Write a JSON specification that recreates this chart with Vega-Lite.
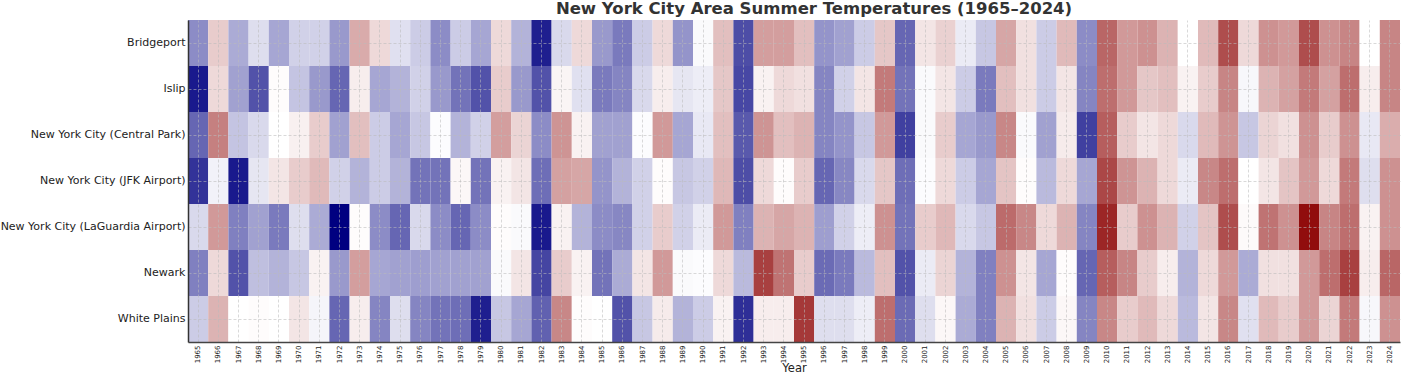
{
  "$schema": "https://vega.github.io/schema/vega-lite/v6.json",
  "autosize": {"type": "none"},
  "padding": {"left": 188, "top": 20, "right": 4, "bottom": 33},
  "width": 1212,
  "height": 322,
  "title": {"text": "New York City Area Summer Temperatures (1965–2024)", "font": "DejaVu Sans", "fontSize": 16.5, "fontWeight": "bold", "color": "#333333", "anchor": "middle", "offset": 3, "dx": 20},
  "config": {"view": {"stroke": null}, "font": "DejaVu Sans"},
  "data": {"values": [
{"Year":1965,"Station":"Bridgeport","Value":-0.45},{"Year":1965,"Station":"Islip","Value":-0.9},{"Year":1965,"Station":"New York City (Central Park)","Value":-0.6},{"Year":1965,"Station":"New York City (JFK Airport)","Value":-0.8},{"Year":1965,"Station":"New York City (LaGuardia Airport)","Value":-0.15},{"Year":1965,"Station":"Newark","Value":-0.5},{"Year":1965,"Station":"White Plains","Value":-0.2},
{"Year":1966,"Station":"Bridgeport","Value":0.2},{"Year":1966,"Station":"Islip","Value":0.15},{"Year":1966,"Station":"New York City (Central Park)","Value":0.5},{"Year":1966,"Station":"New York City (JFK Airport)","Value":-0.05},{"Year":1966,"Station":"New York City (LaGuardia Airport)","Value":0.4},{"Year":1966,"Station":"Newark","Value":0.15},{"Year":1966,"Station":"White Plains","Value":0.3},
{"Year":1967,"Station":"Bridgeport","Value":-0.33},{"Year":1967,"Station":"Islip","Value":-0.37},{"Year":1967,"Station":"New York City (Central Park)","Value":-0.23},{"Year":1967,"Station":"New York City (JFK Airport)","Value":-0.9},{"Year":1967,"Station":"New York City (LaGuardia Airport)","Value":-0.5},{"Year":1967,"Station":"Newark","Value":-0.68},{"Year":1967,"Station":"White Plains","Value":0},
{"Year":1968,"Station":"Bridgeport","Value":-0.13},{"Year":1968,"Station":"Islip","Value":-0.68},{"Year":1968,"Station":"New York City (Central Park)","Value":-0.15},{"Year":1968,"Station":"New York City (JFK Airport)","Value":-0.1},{"Year":1968,"Station":"New York City (LaGuardia Airport)","Value":-0.37},{"Year":1968,"Station":"Newark","Value":-0.25},{"Year":1968,"Station":"White Plains","Value":0.01},
{"Year":1969,"Station":"Bridgeport","Value":-0.35},{"Year":1969,"Station":"Islip","Value":0.01},{"Year":1969,"Station":"New York City (Central Park)","Value":0},{"Year":1969,"Station":"New York City (JFK Airport)","Value":0.1},{"Year":1969,"Station":"New York City (LaGuardia Airport)","Value":-0.52},{"Year":1969,"Station":"Newark","Value":-0.3},{"Year":1969,"Station":"White Plains","Value":0},
{"Year":1970,"Station":"Bridgeport","Value":-0.18},{"Year":1970,"Station":"Islip","Value":-0.23},{"Year":1970,"Station":"New York City (Central Park)","Value":0.06},{"Year":1970,"Station":"New York City (JFK Airport)","Value":0.2},{"Year":1970,"Station":"New York City (LaGuardia Airport)","Value":-0.13},{"Year":1970,"Station":"Newark","Value":-0.22},{"Year":1970,"Station":"White Plains","Value":0.1},
{"Year":1971,"Station":"Bridgeport","Value":-0.18},{"Year":1971,"Station":"Islip","Value":-0.4},{"Year":1971,"Station":"New York City (Central Park)","Value":0.2},{"Year":1971,"Station":"New York City (JFK Airport)","Value":0.27},{"Year":1971,"Station":"New York City (LaGuardia Airport)","Value":-0.33},{"Year":1971,"Station":"Newark","Value":0.05},{"Year":1971,"Station":"White Plains","Value":-0.04},
{"Year":1972,"Station":"Bridgeport","Value":-0.4},{"Year":1972,"Station":"Islip","Value":-0.6},{"Year":1972,"Station":"New York City (Central Park)","Value":-0.37},{"Year":1972,"Station":"New York City (JFK Airport)","Value":-0.18},{"Year":1972,"Station":"New York City (LaGuardia Airport)","Value":-1.0},{"Year":1972,"Station":"Newark","Value":-0.4},{"Year":1972,"Station":"White Plains","Value":-0.6},
{"Year":1973,"Station":"Bridgeport","Value":0.33},{"Year":1973,"Station":"Islip","Value":0.07},{"Year":1973,"Station":"New York City (Central Park)","Value":0.25},{"Year":1973,"Station":"New York City (JFK Airport)","Value":-0.3},{"Year":1973,"Station":"New York City (LaGuardia Airport)","Value":0.01},{"Year":1973,"Station":"Newark","Value":0.38},{"Year":1973,"Station":"White Plains","Value":0.07},
{"Year":1974,"Station":"Bridgeport","Value":0.15},{"Year":1974,"Station":"Islip","Value":-0.35},{"Year":1974,"Station":"New York City (Central Park)","Value":-0.2},{"Year":1974,"Station":"New York City (JFK Airport)","Value":-0.2},{"Year":1974,"Station":"New York City (LaGuardia Airport)","Value":-0.45},{"Year":1974,"Station":"Newark","Value":-0.35},{"Year":1974,"Station":"White Plains","Value":-0.48},
{"Year":1975,"Station":"Bridgeport","Value":-0.12},{"Year":1975,"Station":"Islip","Value":-0.3},{"Year":1975,"Station":"New York City (Central Park)","Value":-0.35},{"Year":1975,"Station":"New York City (JFK Airport)","Value":-0.3},{"Year":1975,"Station":"New York City (LaGuardia Airport)","Value":-0.6},{"Year":1975,"Station":"Newark","Value":-0.37},{"Year":1975,"Station":"White Plains","Value":-0.13},
{"Year":1976,"Station":"Bridgeport","Value":-0.2},{"Year":1976,"Station":"Islip","Value":-0.18},{"Year":1976,"Station":"New York City (Central Park)","Value":-0.22},{"Year":1976,"Station":"New York City (JFK Airport)","Value":-0.55},{"Year":1976,"Station":"New York City (LaGuardia Airport)","Value":-0.15},{"Year":1976,"Station":"Newark","Value":-0.38},{"Year":1976,"Station":"White Plains","Value":-0.48},
{"Year":1977,"Station":"Bridgeport","Value":-0.45},{"Year":1977,"Station":"Islip","Value":-0.4},{"Year":1977,"Station":"New York City (Central Park)","Value":-0.01},{"Year":1977,"Station":"New York City (JFK Airport)","Value":-0.55},{"Year":1977,"Station":"New York City (LaGuardia Airport)","Value":-0.45},{"Year":1977,"Station":"Newark","Value":-0.37},{"Year":1977,"Station":"White Plains","Value":-0.55},
{"Year":1978,"Station":"Bridgeport","Value":-0.2},{"Year":1978,"Station":"Islip","Value":-0.55},{"Year":1978,"Station":"New York City (Central Park)","Value":-0.3},{"Year":1978,"Station":"New York City (JFK Airport)","Value":0.03},{"Year":1978,"Station":"New York City (LaGuardia Airport)","Value":-0.6},{"Year":1978,"Station":"Newark","Value":-0.37},{"Year":1978,"Station":"White Plains","Value":-0.57},
{"Year":1979,"Station":"Bridgeport","Value":-0.35},{"Year":1979,"Station":"Islip","Value":-0.68},{"Year":1979,"Station":"New York City (Central Park)","Value":-0.18},{"Year":1979,"Station":"New York City (JFK Airport)","Value":-0.55},{"Year":1979,"Station":"New York City (LaGuardia Airport)","Value":-0.45},{"Year":1979,"Station":"Newark","Value":-0.37},{"Year":1979,"Station":"White Plains","Value":-0.88},
{"Year":1980,"Station":"Bridgeport","Value":0.15},{"Year":1980,"Station":"Islip","Value":0.2},{"Year":1980,"Station":"New York City (Central Park)","Value":0.38},{"Year":1980,"Station":"New York City (JFK Airport)","Value":0.05},{"Year":1980,"Station":"New York City (LaGuardia Airport)","Value":0.01},{"Year":1980,"Station":"Newark","Value":-0.02},{"Year":1980,"Station":"White Plains","Value":-0.22},
{"Year":1981,"Station":"Bridgeport","Value":-0.3},{"Year":1981,"Station":"Islip","Value":-0.4},{"Year":1981,"Station":"New York City (Central Park)","Value":0.17},{"Year":1981,"Station":"New York City (JFK Airport)","Value":0.1},{"Year":1981,"Station":"New York City (LaGuardia Airport)","Value":-0.02},{"Year":1981,"Station":"Newark","Value":0.1},{"Year":1981,"Station":"White Plains","Value":-0.35},
{"Year":1982,"Station":"Bridgeport","Value":-0.88},{"Year":1982,"Station":"Islip","Value":-0.68},{"Year":1982,"Station":"New York City (Central Park)","Value":-0.45},{"Year":1982,"Station":"New York City (JFK Airport)","Value":-0.57},{"Year":1982,"Station":"New York City (LaGuardia Airport)","Value":-0.9},{"Year":1982,"Station":"Newark","Value":-0.73},{"Year":1982,"Station":"White Plains","Value":-0.62},
{"Year":1983,"Station":"Bridgeport","Value":-0.15},{"Year":1983,"Station":"Islip","Value":0.04},{"Year":1983,"Station":"New York City (Central Park)","Value":0.42},{"Year":1983,"Station":"New York City (JFK Airport)","Value":0.37},{"Year":1983,"Station":"New York City (LaGuardia Airport)","Value":0.05},{"Year":1983,"Station":"Newark","Value":0.2},{"Year":1983,"Station":"White Plains","Value":0.47},
{"Year":1984,"Station":"Bridgeport","Value":0.15},{"Year":1984,"Station":"Islip","Value":-0.12},{"Year":1984,"Station":"New York City (Central Park)","Value":0.05},{"Year":1984,"Station":"New York City (JFK Airport)","Value":0.35},{"Year":1984,"Station":"New York City (LaGuardia Airport)","Value":-0.3},{"Year":1984,"Station":"Newark","Value":0.05},{"Year":1984,"Station":"White Plains","Value":0.01},
{"Year":1985,"Station":"Bridgeport","Value":-0.4},{"Year":1985,"Station":"Islip","Value":-0.52},{"Year":1985,"Station":"New York City (Central Park)","Value":-0.37},{"Year":1985,"Station":"New York City (JFK Airport)","Value":-0.42},{"Year":1985,"Station":"New York City (LaGuardia Airport)","Value":-0.45},{"Year":1985,"Station":"Newark","Value":-0.55},{"Year":1985,"Station":"White Plains","Value":0},
{"Year":1986,"Station":"Bridgeport","Value":-0.52},{"Year":1986,"Station":"Islip","Value":-0.48},{"Year":1986,"Station":"New York City (Central Park)","Value":-0.37},{"Year":1986,"Station":"New York City (JFK Airport)","Value":-0.3},{"Year":1986,"Station":"New York City (LaGuardia Airport)","Value":-0.47},{"Year":1986,"Station":"Newark","Value":-0.33},{"Year":1986,"Station":"White Plains","Value":-0.68},
{"Year":1987,"Station":"Bridgeport","Value":-0.2},{"Year":1987,"Station":"Islip","Value":-0.15},{"Year":1987,"Station":"New York City (Central Park)","Value":-0.01},{"Year":1987,"Station":"New York City (JFK Airport)","Value":-0.18},{"Year":1987,"Station":"New York City (LaGuardia Airport)","Value":-0.18},{"Year":1987,"Station":"Newark","Value":0.1},{"Year":1987,"Station":"White Plains","Value":-0.22},
{"Year":1988,"Station":"Bridgeport","Value":0.15},{"Year":1988,"Station":"Islip","Value":0.07},{"Year":1988,"Station":"New York City (Central Park)","Value":0.4},{"Year":1988,"Station":"New York City (JFK Airport)","Value":0.01},{"Year":1988,"Station":"New York City (LaGuardia Airport)","Value":0.2},{"Year":1988,"Station":"Newark","Value":0.4},{"Year":1988,"Station":"White Plains","Value":0.08},
{"Year":1989,"Station":"Bridgeport","Value":-0.42},{"Year":1989,"Station":"Islip","Value":-0.1},{"Year":1989,"Station":"New York City (Central Park)","Value":-0.35},{"Year":1989,"Station":"New York City (JFK Airport)","Value":-0.22},{"Year":1989,"Station":"New York City (LaGuardia Airport)","Value":-0.18},{"Year":1989,"Station":"Newark","Value":-0.02},{"Year":1989,"Station":"White Plains","Value":-0.3},
{"Year":1990,"Station":"Bridgeport","Value":-0.02},{"Year":1990,"Station":"Islip","Value":-0.07},{"Year":1990,"Station":"New York City (Central Park)","Value":-0.09},{"Year":1990,"Station":"New York City (JFK Airport)","Value":-0.18},{"Year":1990,"Station":"New York City (LaGuardia Airport)","Value":-0.08},{"Year":1990,"Station":"Newark","Value":-0.01},{"Year":1990,"Station":"White Plains","Value":-0.2},
{"Year":1991,"Station":"Bridgeport","Value":0.25},{"Year":1991,"Station":"Islip","Value":0.22},{"Year":1991,"Station":"New York City (Central Park)","Value":0.25},{"Year":1991,"Station":"New York City (JFK Airport)","Value":0.28},{"Year":1991,"Station":"New York City (LaGuardia Airport)","Value":0.4},{"Year":1991,"Station":"Newark","Value":0.15},{"Year":1991,"Station":"White Plains","Value":0.05},
{"Year":1992,"Station":"Bridgeport","Value":-0.7},{"Year":1992,"Station":"Islip","Value":-0.72},{"Year":1992,"Station":"New York City (Central Park)","Value":-0.65},{"Year":1992,"Station":"New York City (JFK Airport)","Value":-0.7},{"Year":1992,"Station":"New York City (LaGuardia Airport)","Value":-0.5},{"Year":1992,"Station":"Newark","Value":-0.27},{"Year":1992,"Station":"White Plains","Value":-0.82},
{"Year":1993,"Station":"Bridgeport","Value":0.38},{"Year":1993,"Station":"Islip","Value":0.05},{"Year":1993,"Station":"New York City (Central Park)","Value":0.42},{"Year":1993,"Station":"New York City (JFK Airport)","Value":0.15},{"Year":1993,"Station":"New York City (LaGuardia Airport)","Value":0.3},{"Year":1993,"Station":"Newark","Value":0.75},{"Year":1993,"Station":"White Plains","Value":0.07},
{"Year":1994,"Station":"Bridgeport","Value":0.38},{"Year":1994,"Station":"Islip","Value":0.15},{"Year":1994,"Station":"New York City (Central Park)","Value":0.25},{"Year":1994,"Station":"New York City (JFK Airport)","Value":0.01},{"Year":1994,"Station":"New York City (LaGuardia Airport)","Value":0.35},{"Year":1994,"Station":"Newark","Value":0.55},{"Year":1994,"Station":"White Plains","Value":0.07},
{"Year":1995,"Station":"Bridgeport","Value":0.25},{"Year":1995,"Station":"Islip","Value":0.12},{"Year":1995,"Station":"New York City (Central Park)","Value":0.3},{"Year":1995,"Station":"New York City (JFK Airport)","Value":0.2},{"Year":1995,"Station":"New York City (LaGuardia Airport)","Value":0.3},{"Year":1995,"Station":"Newark","Value":0.2},{"Year":1995,"Station":"White Plains","Value":0.78},
{"Year":1996,"Station":"Bridgeport","Value":-0.42},{"Year":1996,"Station":"Islip","Value":-0.48},{"Year":1996,"Station":"New York City (Central Park)","Value":-0.48},{"Year":1996,"Station":"New York City (JFK Airport)","Value":-0.6},{"Year":1996,"Station":"New York City (LaGuardia Airport)","Value":-0.38},{"Year":1996,"Station":"Newark","Value":-0.58},{"Year":1996,"Station":"White Plains","Value":-0.13},
{"Year":1997,"Station":"Bridgeport","Value":-0.37},{"Year":1997,"Station":"Islip","Value":-0.18},{"Year":1997,"Station":"New York City (Central Park)","Value":-0.42},{"Year":1997,"Station":"New York City (JFK Airport)","Value":-0.47},{"Year":1997,"Station":"New York City (LaGuardia Airport)","Value":-0.18},{"Year":1997,"Station":"Newark","Value":-0.52},{"Year":1997,"Station":"White Plains","Value":-0.13},
{"Year":1998,"Station":"Bridgeport","Value":-0.2},{"Year":1998,"Station":"Islip","Value":0.1},{"Year":1998,"Station":"New York City (Central Park)","Value":-0.22},{"Year":1998,"Station":"New York City (JFK Airport)","Value":-0.15},{"Year":1998,"Station":"New York City (LaGuardia Airport)","Value":-0.07},{"Year":1998,"Station":"Newark","Value":-0.27},{"Year":1998,"Station":"White Plains","Value":-0.07},
{"Year":1999,"Station":"Bridgeport","Value":0.22},{"Year":1999,"Station":"Islip","Value":0.52},{"Year":1999,"Station":"New York City (Central Park)","Value":0.4},{"Year":1999,"Station":"New York City (JFK Airport)","Value":0.22},{"Year":1999,"Station":"New York City (LaGuardia Airport)","Value":0.43},{"Year":1999,"Station":"Newark","Value":0.25},{"Year":1999,"Station":"White Plains","Value":0.57},
{"Year":2000,"Station":"Bridgeport","Value":-0.6},{"Year":2000,"Station":"Islip","Value":-0.55},{"Year":2000,"Station":"New York City (Central Park)","Value":-0.75},{"Year":2000,"Station":"New York City (JFK Airport)","Value":-0.57},{"Year":2000,"Station":"New York City (LaGuardia Airport)","Value":-0.55},{"Year":2000,"Station":"Newark","Value":-0.68},{"Year":2000,"Station":"White Plains","Value":-0.58},
{"Year":2001,"Station":"Bridgeport","Value":0.1},{"Year":2001,"Station":"Islip","Value":-0.02},{"Year":2001,"Station":"New York City (Central Park)","Value":-0.02},{"Year":2001,"Station":"New York City (JFK Airport)","Value":-0.01},{"Year":2001,"Station":"New York City (LaGuardia Airport)","Value":0.2},{"Year":2001,"Station":"Newark","Value":-0.08},{"Year":2001,"Station":"White Plains","Value":-0.13},
{"Year":2002,"Station":"Bridgeport","Value":0.18},{"Year":2002,"Station":"Islip","Value":0.1},{"Year":2002,"Station":"New York City (Central Park)","Value":0.2},{"Year":2002,"Station":"New York City (JFK Airport)","Value":0.15},{"Year":2002,"Station":"New York City (LaGuardia Airport)","Value":0.28},{"Year":2002,"Station":"Newark","Value":0.17},{"Year":2002,"Station":"White Plains","Value":0.03},
{"Year":2003,"Station":"Bridgeport","Value":-0.08},{"Year":2003,"Station":"Islip","Value":-0.2},{"Year":2003,"Station":"New York City (Central Park)","Value":-0.35},{"Year":2003,"Station":"New York City (JFK Airport)","Value":-0.2},{"Year":2003,"Station":"New York City (LaGuardia Airport)","Value":-0.15},{"Year":2003,"Station":"Newark","Value":-0.3},{"Year":2003,"Station":"White Plains","Value":-0.33},
{"Year":2004,"Station":"Bridgeport","Value":-0.22},{"Year":2004,"Station":"Islip","Value":-0.52},{"Year":2004,"Station":"New York City (Central Park)","Value":-0.4},{"Year":2004,"Station":"New York City (JFK Airport)","Value":-0.35},{"Year":2004,"Station":"New York City (LaGuardia Airport)","Value":-0.22},{"Year":2004,"Station":"Newark","Value":-0.5},{"Year":2004,"Station":"White Plains","Value":-0.5},
{"Year":2005,"Station":"Bridgeport","Value":0.35},{"Year":2005,"Station":"Islip","Value":0.25},{"Year":2005,"Station":"New York City (Central Park)","Value":0.47},{"Year":2005,"Station":"New York City (JFK Airport)","Value":0.23},{"Year":2005,"Station":"New York City (LaGuardia Airport)","Value":0.58},{"Year":2005,"Station":"Newark","Value":0.43},{"Year":2005,"Station":"White Plains","Value":0.3},
{"Year":2006,"Station":"Bridgeport","Value":0.12},{"Year":2006,"Station":"Islip","Value":0.12},{"Year":2006,"Station":"New York City (Central Park)","Value":-0.02},{"Year":2006,"Station":"New York City (JFK Airport)","Value":0.01},{"Year":2006,"Station":"New York City (LaGuardia Airport)","Value":0.47},{"Year":2006,"Station":"Newark","Value":0.1},{"Year":2006,"Station":"White Plains","Value":0.12},
{"Year":2007,"Station":"Bridgeport","Value":-0.2},{"Year":2007,"Station":"Islip","Value":-0.2},{"Year":2007,"Station":"New York City (Central Park)","Value":-0.37},{"Year":2007,"Station":"New York City (JFK Airport)","Value":-0.27},{"Year":2007,"Station":"New York City (LaGuardia Airport)","Value":0.15},{"Year":2007,"Station":"Newark","Value":-0.35},{"Year":2007,"Station":"White Plains","Value":-0.2},
{"Year":2008,"Station":"Bridgeport","Value":0.27},{"Year":2008,"Station":"Islip","Value":0.1},{"Year":2008,"Station":"New York City (Central Park)","Value":0.08},{"Year":2008,"Station":"New York City (JFK Airport)","Value":0.15},{"Year":2008,"Station":"New York City (LaGuardia Airport)","Value":0.3},{"Year":2008,"Station":"Newark","Value":0.01},{"Year":2008,"Station":"White Plains","Value":0.03},
{"Year":2009,"Station":"Bridgeport","Value":-0.45},{"Year":2009,"Station":"Islip","Value":-0.48},{"Year":2009,"Station":"New York City (Central Park)","Value":-0.75},{"Year":2009,"Station":"New York City (JFK Airport)","Value":-0.35},{"Year":2009,"Station":"New York City (LaGuardia Airport)","Value":-0.48},{"Year":2009,"Station":"Newark","Value":-0.6},{"Year":2009,"Station":"White Plains","Value":-0.48},
{"Year":2010,"Station":"Bridgeport","Value":0.6},{"Year":2010,"Station":"Islip","Value":0.57},{"Year":2010,"Station":"New York City (Central Park)","Value":0.63},{"Year":2010,"Station":"New York City (JFK Airport)","Value":0.72},{"Year":2010,"Station":"New York City (LaGuardia Airport)","Value":0.85},{"Year":2010,"Station":"Newark","Value":0.63},{"Year":2010,"Station":"White Plains","Value":0.47},
{"Year":2011,"Station":"Bridgeport","Value":0.4},{"Year":2011,"Station":"Islip","Value":0.4},{"Year":2011,"Station":"New York City (Central Park)","Value":0.2},{"Year":2011,"Station":"New York City (JFK Airport)","Value":0.42},{"Year":2011,"Station":"New York City (LaGuardia Airport)","Value":0.2},{"Year":2011,"Station":"Newark","Value":0.48},{"Year":2011,"Station":"White Plains","Value":0.2},
{"Year":2012,"Station":"Bridgeport","Value":0.43},{"Year":2012,"Station":"Islip","Value":0.22},{"Year":2012,"Station":"New York City (Central Park)","Value":0.1},{"Year":2012,"Station":"New York City (JFK Airport)","Value":0.3},{"Year":2012,"Station":"New York City (LaGuardia Airport)","Value":0.43},{"Year":2012,"Station":"Newark","Value":0.2},{"Year":2012,"Station":"White Plains","Value":0.27},
{"Year":2013,"Station":"Bridgeport","Value":0.3},{"Year":2013,"Station":"Islip","Value":0.25},{"Year":2013,"Station":"New York City (Central Park)","Value":0.15},{"Year":2013,"Station":"New York City (JFK Airport)","Value":0.15},{"Year":2013,"Station":"New York City (LaGuardia Airport)","Value":0.3},{"Year":2013,"Station":"Newark","Value":0.07},{"Year":2013,"Station":"White Plains","Value":0.15},
{"Year":2014,"Station":"Bridgeport","Value":0},{"Year":2014,"Station":"Islip","Value":0.05},{"Year":2014,"Station":"New York City (Central Park)","Value":-0.15},{"Year":2014,"Station":"New York City (JFK Airport)","Value":-0.08},{"Year":2014,"Station":"New York City (LaGuardia Airport)","Value":-0.18},{"Year":2014,"Station":"Newark","Value":-0.3},{"Year":2014,"Station":"White Plains","Value":-0.27},
{"Year":2015,"Station":"Bridgeport","Value":0.27},{"Year":2015,"Station":"Islip","Value":0.2},{"Year":2015,"Station":"New York City (Central Park)","Value":0.27},{"Year":2015,"Station":"New York City (JFK Airport)","Value":0.47},{"Year":2015,"Station":"New York City (LaGuardia Airport)","Value":0.23},{"Year":2015,"Station":"Newark","Value":0.15},{"Year":2015,"Station":"White Plains","Value":0.1},
{"Year":2016,"Station":"Bridgeport","Value":0.7},{"Year":2016,"Station":"Islip","Value":0.48},{"Year":2016,"Station":"New York City (Central Park)","Value":0.42},{"Year":2016,"Station":"New York City (JFK Airport)","Value":0.57},{"Year":2016,"Station":"New York City (LaGuardia Airport)","Value":0.7},{"Year":2016,"Station":"Newark","Value":0.4},{"Year":2016,"Station":"White Plains","Value":0.47},
{"Year":2017,"Station":"Bridgeport","Value":0.15},{"Year":2017,"Station":"Islip","Value":-0.03},{"Year":2017,"Station":"New York City (Central Park)","Value":-0.22},{"Year":2017,"Station":"New York City (JFK Airport)","Value":0},{"Year":2017,"Station":"New York City (LaGuardia Airport)","Value":0.02},{"Year":2017,"Station":"Newark","Value":-0.33},{"Year":2017,"Station":"White Plains","Value":-0.12},
{"Year":2018,"Station":"Bridgeport","Value":0.43},{"Year":2018,"Station":"Islip","Value":0.3},{"Year":2018,"Station":"New York City (Central Park)","Value":0.17},{"Year":2018,"Station":"New York City (JFK Airport)","Value":0.1},{"Year":2018,"Station":"New York City (LaGuardia Airport)","Value":0.55},{"Year":2018,"Station":"Newark","Value":0.12},{"Year":2018,"Station":"White Plains","Value":0.27},
{"Year":2019,"Station":"Bridgeport","Value":0.4},{"Year":2019,"Station":"Islip","Value":0.37},{"Year":2019,"Station":"New York City (Central Park)","Value":0.12},{"Year":2019,"Station":"New York City (JFK Airport)","Value":0.23},{"Year":2019,"Station":"New York City (LaGuardia Airport)","Value":0.43},{"Year":2019,"Station":"Newark","Value":0.12},{"Year":2019,"Station":"White Plains","Value":0.2},
{"Year":2020,"Station":"Bridgeport","Value":0.7},{"Year":2020,"Station":"Islip","Value":0.52},{"Year":2020,"Station":"New York City (Central Park)","Value":0.43},{"Year":2020,"Station":"New York City (JFK Airport)","Value":0.4},{"Year":2020,"Station":"New York City (LaGuardia Airport)","Value":0.95},{"Year":2020,"Station":"Newark","Value":0.4},{"Year":2020,"Station":"White Plains","Value":0.4},
{"Year":2021,"Station":"Bridgeport","Value":0.43},{"Year":2021,"Station":"Islip","Value":0.37},{"Year":2021,"Station":"New York City (Central Park)","Value":0.2},{"Year":2021,"Station":"New York City (JFK Airport)","Value":0.15},{"Year":2021,"Station":"New York City (LaGuardia Airport)","Value":0.48},{"Year":2021,"Station":"Newark","Value":0.57},{"Year":2021,"Station":"White Plains","Value":0.17},
{"Year":2022,"Station":"Bridgeport","Value":0.48},{"Year":2022,"Station":"Islip","Value":0.57},{"Year":2022,"Station":"New York City (Central Park)","Value":0.43},{"Year":2022,"Station":"New York City (JFK Airport)","Value":0.52},{"Year":2022,"Station":"New York City (LaGuardia Airport)","Value":0.57},{"Year":2022,"Station":"Newark","Value":0.75},{"Year":2022,"Station":"White Plains","Value":0.52},
{"Year":2023,"Station":"Bridgeport","Value":0},{"Year":2023,"Station":"Islip","Value":0.07},{"Year":2023,"Station":"New York City (Central Park)","Value":-0.09},{"Year":2023,"Station":"New York City (JFK Airport)","Value":-0.13},{"Year":2023,"Station":"New York City (LaGuardia Airport)","Value":0.05},{"Year":2023,"Station":"Newark","Value":0.07},{"Year":2023,"Station":"White Plains","Value":-0.03},
{"Year":2024,"Station":"Bridgeport","Value":0.48},{"Year":2024,"Station":"Islip","Value":0.48},{"Year":2024,"Station":"New York City (Central Park)","Value":0.32},{"Year":2024,"Station":"New York City (JFK Airport)","Value":0.43},{"Year":2024,"Station":"New York City (LaGuardia Airport)","Value":0.43},{"Year":2024,"Station":"Newark","Value":0.6},{"Year":2024,"Station":"White Plains","Value":0.43}
  ]},
  "mark": {"type": "rect"},
  "encoding": {
    "x": {"field": "Year", "type": "ordinal", "scale": {"paddingInner": 0, "paddingOuter": 0},
      "axis": {"title": "Year", "titleFont": "DejaVu Sans", "titleFontSize": 11.5, "titleFontWeight": "normal", "titleColor": "#222222", "titlePadding": 0,
        "labelAngle": -90, "labelFontSize": 7, "labelColor": "#222222", "labelPadding": 3, "ticks": false,
        "domainColor": "#444444", "domainWidth": 1.5,
        "grid": true, "gridColor": "#bbbbbb", "gridDash": [3, 2], "gridWidth": 0.8, "gridOpacity": 0.7, "bandPosition": 0.5, "zindex": 1}},
    "y": {"field": "Station", "type": "nominal", "sort": ["Bridgeport", "Islip", "New York City (Central Park)", "New York City (JFK Airport)", "New York City (LaGuardia Airport)", "Newark", "White Plains"],
      "scale": {"paddingInner": 0, "paddingOuter": 0},
      "axis": {"title": null, "labelFontSize": 11, "labelColor": "#222222", "labelPadding": 3, "ticks": false, "labelLimit": 0,
        "domainColor": "#333333", "domainWidth": 1.5,
        "grid": true, "gridColor": "#bbbbbb", "gridDash": [3, 2], "gridWidth": 0.8, "gridOpacity": 0.7, "bandPosition": 0.5, "zindex": 1}},
    "color": {"field": "Value", "type": "quantitative", "legend": null,
      "scale": {"domain": [-1, 0, 1], "range": ["#000080", "#ffffff", "#8b0000"], "interpolate": "rgb"}}
  }
}
